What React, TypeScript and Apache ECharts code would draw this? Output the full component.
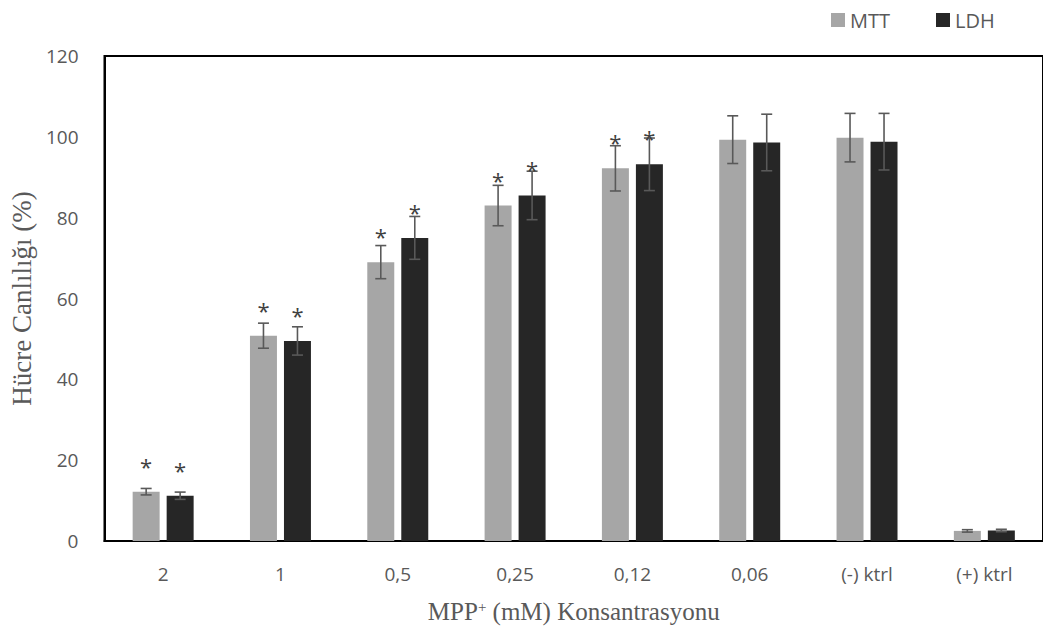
import React, { useEffect, useRef } from "react";
import * as echarts from "echarts";

const categories = ["2", "1", "0,5", "0,25", "0,12", "0,06", "(-) ktrl", "(+) ktrl"];
const mttValues = [12.2, 50.8, 69.0, 83.0, 92.2, 99.3, 99.8, 2.5];
const mttErrors = [0.8, 3.1, 4.1, 5.0, 5.6, 5.9, 6.0, 0.3];
const ldhValues = [11.2, 49.5, 75.0, 85.5, 93.2, 98.6, 98.8, 2.6];
const ldhErrors = [0.9, 3.5, 5.3, 6.0, 6.5, 7.0, 7.0, 0.3];
const mttSignificant = [1, 1, 1, 1, 1, 0, 0, 0];
const ldhSignificant = [1, 1, 1, 1, 1, 0, 0, 0];
const yTicks = { min: 0, max: 120, interval: 20 };

const BAR_FRAC = 0.23;
const GAP_FRAC = 0.26;

function makeErrorSeries(name: string, vals: number[], errs: number[], sig: number[], side: number) {
  return {
    type: "custom",
    name,
    z: 5,
    silent: true,
    encode: { x: 0, y: 1 },
    data: vals.map((v, i) => [i, v, errs[i], sig[i]]),
    renderItem: (params: any, api: any) => {
      const idx = api.value(0);
      const v = api.value(1);
      const e = api.value(2);
      const s = api.value(3);
      const bandW = api.size([1, 0])[0];
      const barW = bandW * BAR_FRAC;
      const gap = barW * GAP_FRAC;
      const base = api.coord([idx, v]);
      const x = base[0] + side * (barW + gap) / 2;
      const yTop = api.coord([idx, v + e])[1];
      const yBot = api.coord([idx, v - e])[1];
      const cap = 5.5;
      const st = { stroke: "#595959", lineWidth: 1.6 };
      const children: any[] = [
        { type: "line", shape: { x1: x, y1: yTop, x2: x, y2: yBot }, style: st },
        { type: "line", shape: { x1: x - cap, y1: yTop, x2: x + cap, y2: yTop }, style: st },
        { type: "line", shape: { x1: x - cap, y1: yBot, x2: x + cap, y2: yBot }, style: st },
      ];
      if (s) {
        children.push({
          type: "text",
          style: {
            text: "*",
            x,
            y: base[1] - 26,
            align: "center",
            verticalAlign: "middle",
            fill: "#404040",
            font: '22px "Open Sans"',
          },
        });
      }
      return { type: "group", children };
    },
  };
}

export default function App() {
  const ref = useRef<HTMLDivElement>(null);
  useEffect(() => {
    const chart = echarts.init(ref.current!, null, { renderer: "svg" });
    chart.setOption({
      animation: false,
      backgroundColor: "#ffffff",
      textStyle: { fontFamily: "Open Sans" },
      legend: {
        data: ["MTT", "LDH"],
        left: 826,
        top: 5,
        itemWidth: 14,
        itemHeight: 14,
        itemGap: 46,
        icon: "rect",
        textStyle: { color: "#595959", fontSize: 20, fontFamily: "Open Sans" },
      },
      grid: {
        left: 101,
        top: 56,
        width: 944,
        height: 485,
        show: true,
        borderColor: "#000000",
        borderWidth: 2,
        containLabel: false,
      },
      xAxis: {
        type: "category",
        data: categories,
        axisLine: { show: true, lineStyle: { color: "#000000", width: 2 } },
        axisTick: { show: false },
        axisLabel: { color: "#595959", fontSize: 19, margin: 23, fontFamily: "Open Sans" },
        name: "{a|MPP}{s|+}{a| (mM) Konsantrasyonu}",
        nameLocation: "middle",
        nameGap: 58,
        nameTextStyle: {
          rich: {
            a: { fontFamily: "Liberation Serif", fontSize: 25, color: "#595959" },
            s: { fontFamily: "Liberation Serif", fontSize: 15, color: "#595959", verticalAlign: "top" },
          },
        },
      },
      yAxis: {
        type: "value",
        min: yTicks.min,
        max: yTicks.max,
        interval: yTicks.interval,
        axisLine: { show: true, lineStyle: { color: "#000000", width: 2 } },
        axisTick: { show: false },
        splitLine: { show: false },
        axisLabel: { color: "#595959", fontSize: 19, margin: 26, fontFamily: "Open Sans" },
        name: "Hücre Canlılığı (%)",
        nameLocation: "middle",
        nameGap: 66,
        nameTextStyle: { fontFamily: "Liberation Serif", fontSize: 27, color: "#595959" },
      },
      series: [
        {
          type: "bar",
          name: "MTT",
          data: mttValues,
          barWidth: `${BAR_FRAC * 100}%`,
          barGap: `${GAP_FRAC * 100}%`,
          itemStyle: { color: "#a6a6a6" },
        },
        {
          type: "bar",
          name: "LDH",
          data: ldhValues,
          barWidth: `${BAR_FRAC * 100}%`,
          barGap: `${GAP_FRAC * 100}%`,
          itemStyle: { color: "#262626" },
        },
        makeErrorSeries("MTT err", mttValues, mttErrors, mttSignificant, -1),
        makeErrorSeries("LDH err", ldhValues, ldhErrors, ldhSignificant, 1),
      ],
    });
    return () => chart.dispose();
  }, []);
  return (
    <div
      ref={ref}
      style={{ position: "absolute", left: 0, top: 0, width: 1043, height: 630 }}
    />
  );
}
